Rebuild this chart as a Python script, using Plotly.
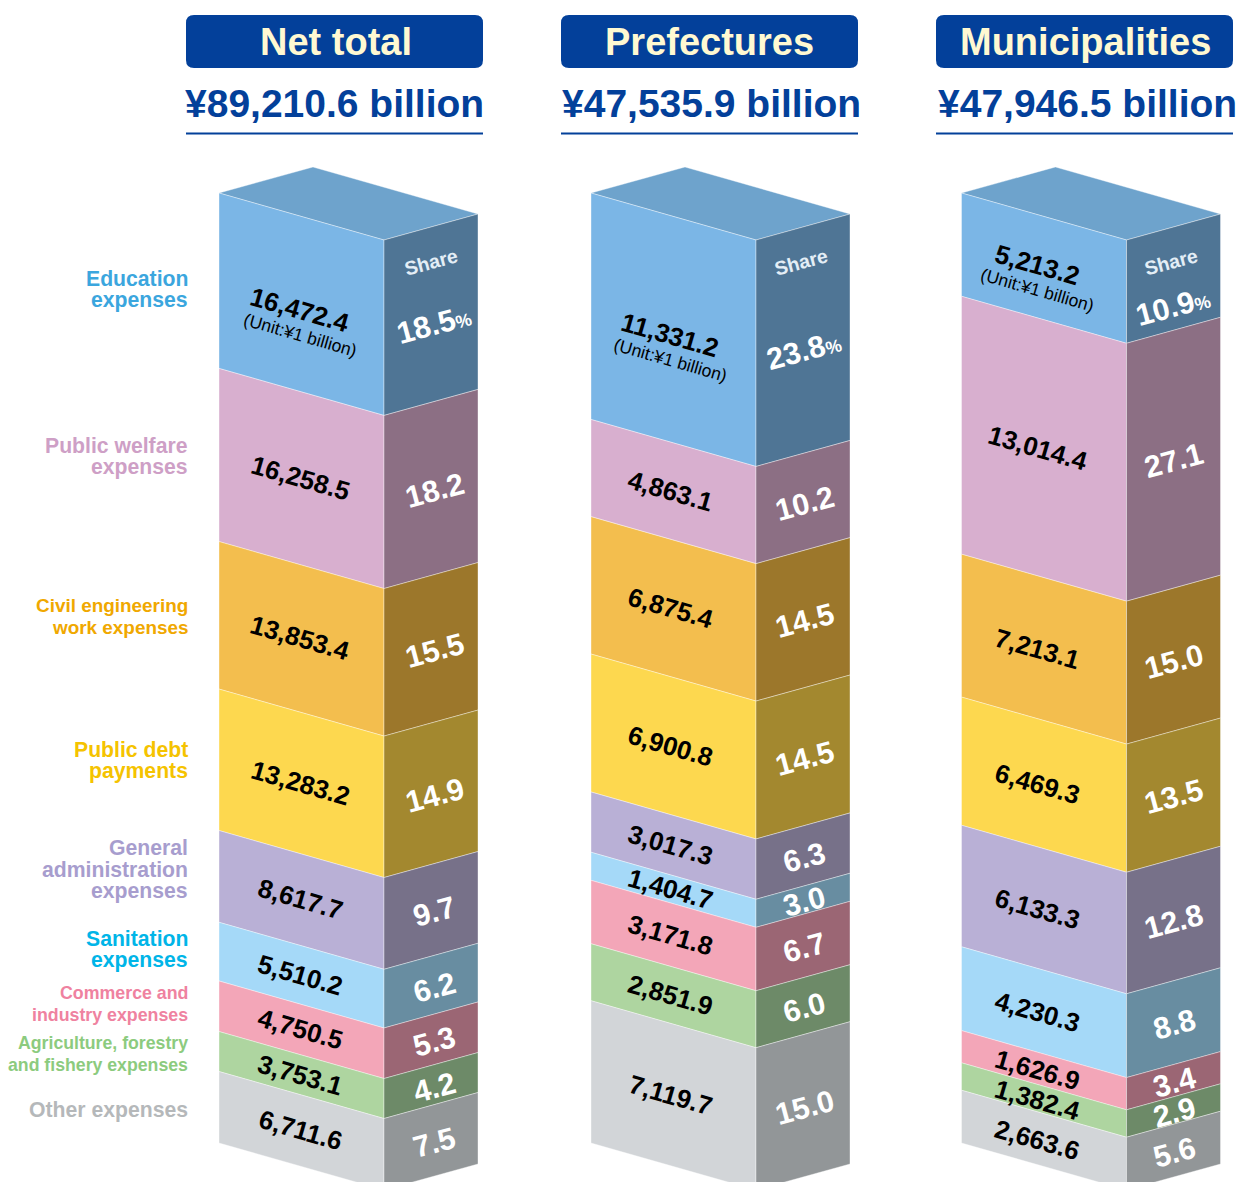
import plotly.graph_objects as go

# ---------- data ----------
categories = [
    ["Education", "expenses"],
    ["Public welfare", "expenses"],
    ["Civil engineering", "work expenses"],
    ["Public debt", "payments"],
    ["General", "administration", "expenses"],
    ["Sanitation", "expenses"],
    ["Commerce and", "industry expenses"],
    ["Agriculture, forestry", "and fishery expenses"],
    ["Other expenses"],
]
net_values = [16472.4, 16258.5, 13853.4, 13283.2, 8617.7, 5510.2, 4750.5, 3753.1, 6711.6]
net_shares = ["18.5", "18.2", "15.5", "14.9", "9.7", "6.2", "5.3", "4.2", "7.5"]
pref_values = [11331.2, 4863.1, 6875.4, 6900.8, 3017.3, 1404.7, 3171.8, 2851.9, 7119.7]
pref_shares = ["23.8", "10.2", "14.5", "14.5", "6.3", "3.0", "6.7", "6.0", "15.0"]
muni_values = [5213.2, 13014.4, 7213.1, 6469.3, 6133.3, 4230.3, 1626.9, 1382.4, 2663.6]
muni_shares = ["10.9", "27.1", "15.0", "13.5", "12.8", "8.8", "3.4", "2.9", "5.6"]
column_titles = ["Net total", "Prefectures", "Municipalities"]
column_totals = ["¥89,210.6 billion", "¥47,535.9 billion", "¥47,946.5 billion"]

# ---------- styles ----------
FONT = "Liberation Sans, Arial, sans-serif"
NAVY = "#03409A"
CREAM = "#FFF9D2"
front_colors = ["#7BB6E6", "#D8AFCF", "#F3BE4E", "#FDD84F", "#B9B0D6", "#A5D9F8", "#F3A6B8", "#AED5A0", "#D2D5D8"]
side_colors = ["#4F7595", "#8C6F84", "#9C772B", "#A3882F", "#777189", "#688DA1", "#9B6674", "#6D8A68", "#929698"]
top_color = "#6EA3CC"
label_colors = ["#3BA6DE", "#CE9FC6", "#F0A800", "#F5C300", "#A79DCE", "#00B5E8", "#EF82A0", "#8CCB7E", "#B5B8BA"]
label_sizes = [21.2, 21.2, 18.9, 21.2, 21.2, 21.2, 17.8, 17.7, 21.2]
label_first_y = [278, 445, 605, 749, 847, 938, 993, 1043, 1110]
LABEL_RIGHT = 188
LINE_GAP = 22

col_left = [219, 591, 961.5]
FRONT_W, SIDE_W = 165, 94
FRONT_DROP, SIDE_RISE = 47, 26
TOP_Y = 193
BAR_H = 950
FRONT_ANGLE, SIDE_ANGLE = 16, -15
front_text_dx = [81, 79, 76]
share_text_dx = [50, 48, 47]
share_word_dx = [47, 45, 44]
total_center = [334, 711.5, 1087.5]
# vertical nudges of the labels in the first (tallest-labelled) segment
first_val_nudge = [6, 6, -3]
first_unit_nudge = [31, 31, 22]
first_share_nudge = [8, 9, 26]

fig = go.Figure()
annotations = []
shapes = []


def add_text(x, y, text, size, color, angle=0, xanchor="center"):
    annotations.append(dict(
        x=x, y=y, text=text, showarrow=False, textangle=angle, xanchor=xanchor, yanchor="middle",
        font=dict(family=FONT, size=size, color=color), borderpad=0, borderwidth=0,
    ))


def add_poly(xs, ys, color):
    fig.add_trace(go.Scatter(
        x=xs + xs[:1], y=ys + ys[:1], mode="lines", fill="toself", fillcolor=color,
        line=dict(color="rgba(255,255,255,0.55)", width=0.7), hoverinfo="skip", showlegend=False,
    ))


columns = [(net_values, net_shares), (pref_values, pref_shares), (muni_values, muni_shares)]
for c, (values, shares) in enumerate(columns):
    x0 = col_left[c]
    x1 = x0 + FRONT_W
    x2 = x1 + SIDE_W
    scale = BAR_H / sum(values)
    # top face
    add_poly([x0, x2 - FRONT_W, x2, x1],
             [TOP_Y, TOP_Y - SIDE_RISE, TOP_Y + FRONT_DROP - SIDE_RISE, TOP_Y + FRONT_DROP], top_color)
    y = TOP_Y
    for i, v in enumerate(values):
        h = v * scale
        # front face
        add_poly([x0, x1, x1, x0], [y, y + FRONT_DROP, y + h + FRONT_DROP, y + h], front_colors[i])
        # side face
        add_poly([x1, x2, x2, x1],
                 [y + FRONT_DROP, y + FRONT_DROP - SIDE_RISE, y + h + FRONT_DROP - SIDE_RISE, y + h + FRONT_DROP],
                 side_colors[i])
        mid = y + h / 2
        fx = x0 + front_text_dx[c]
        fy = mid + FRONT_DROP * 81 / FRONT_W
        sx = x1 + share_text_dx[c]
        sy = mid + FRONT_DROP - SIDE_RISE * 47 / SIDE_W + 1
        if i == 0:
            add_text(fx, fy + first_val_nudge[c], f"<b>{v:,.1f}</b>", 26, "#000000", FRONT_ANGLE)
            add_text(fx, fy + first_unit_nudge[c], "(Unit:¥1 billion)", 17.5, "#000000", FRONT_ANGLE)
            add_text(sx - 1, sy + first_share_nudge[c],
                     f'<b>{shares[i]}<span style="font-size:18px">%</span></b>', 30.5, "#FFFFFF", SIDE_ANGLE)
            add_text(x1 + share_word_dx[c], TOP_Y + 69, "<b>Share</b>", 19.5, "#E4EEF6", SIDE_ANGLE)
        else:
            add_text(fx, fy, f"<b>{v:,.1f}</b>", 26, "#000000", FRONT_ANGLE)
            add_text(sx, sy, f"<b>{shares[i]}</b>", 30.5, "#FFFFFF", SIDE_ANGLE)
        y += h

# category labels
for i, lines in enumerate(categories):
    for k, line in enumerate(lines):
        add_text(LABEL_RIGHT, label_first_y[i] + k * LINE_GAP, f"<b>{line}</b>", label_sizes[i],
                 label_colors[i], 0, "right")

# headers
box_left = [186, 561, 936]
BOX_W, BOX_TOP, BOX_BOT, R = 297, 15, 68, 8
for c, bl in enumerate(box_left):
    br = bl + BOX_W
    shapes.append(dict(
        type="path", xref="x", yref="y", fillcolor=NAVY, line=dict(width=0),
        path=(f"M {bl+R} {BOX_TOP} L {br-R} {BOX_TOP} Q {br} {BOX_TOP} {br} {BOX_TOP+R} "
              f"L {br} {BOX_BOT-R} Q {br} {BOX_BOT} {br-R} {BOX_BOT} L {bl+R} {BOX_BOT} "
              f"Q {bl} {BOX_BOT} {bl} {BOX_BOT-R} L {bl} {BOX_TOP+R} Q {bl} {BOX_TOP} {bl+R} {BOX_TOP} Z"),
    ))
    shapes.append(dict(type="line", xref="x", yref="y", x0=bl, x1=br, y0=133.5, y1=133.5,
                       line=dict(color=NAVY, width=2)))
    add_text(bl + BOX_W / 2 + (1 if c != 1 else 0), 42, f"<b>{column_titles[c]}</b>", 38, CREAM)
    add_text(total_center[c], 103, f"<b>{column_totals[c]}</b>", 39, NAVY)

fig.update_layout(
    width=1240, height=1182, margin=dict(l=0, r=0, t=0, b=0),
    paper_bgcolor="white", plot_bgcolor="white", showlegend=False,
    xaxis=dict(range=[0, 1240], visible=False, fixedrange=True),
    yaxis=dict(range=[1182, 0], visible=False, fixedrange=True),
    annotations=annotations, shapes=shapes,
)
fig.write_html("out.html", config={"displayModeBar": False},
               post_script="document.body.style.margin='0';")
